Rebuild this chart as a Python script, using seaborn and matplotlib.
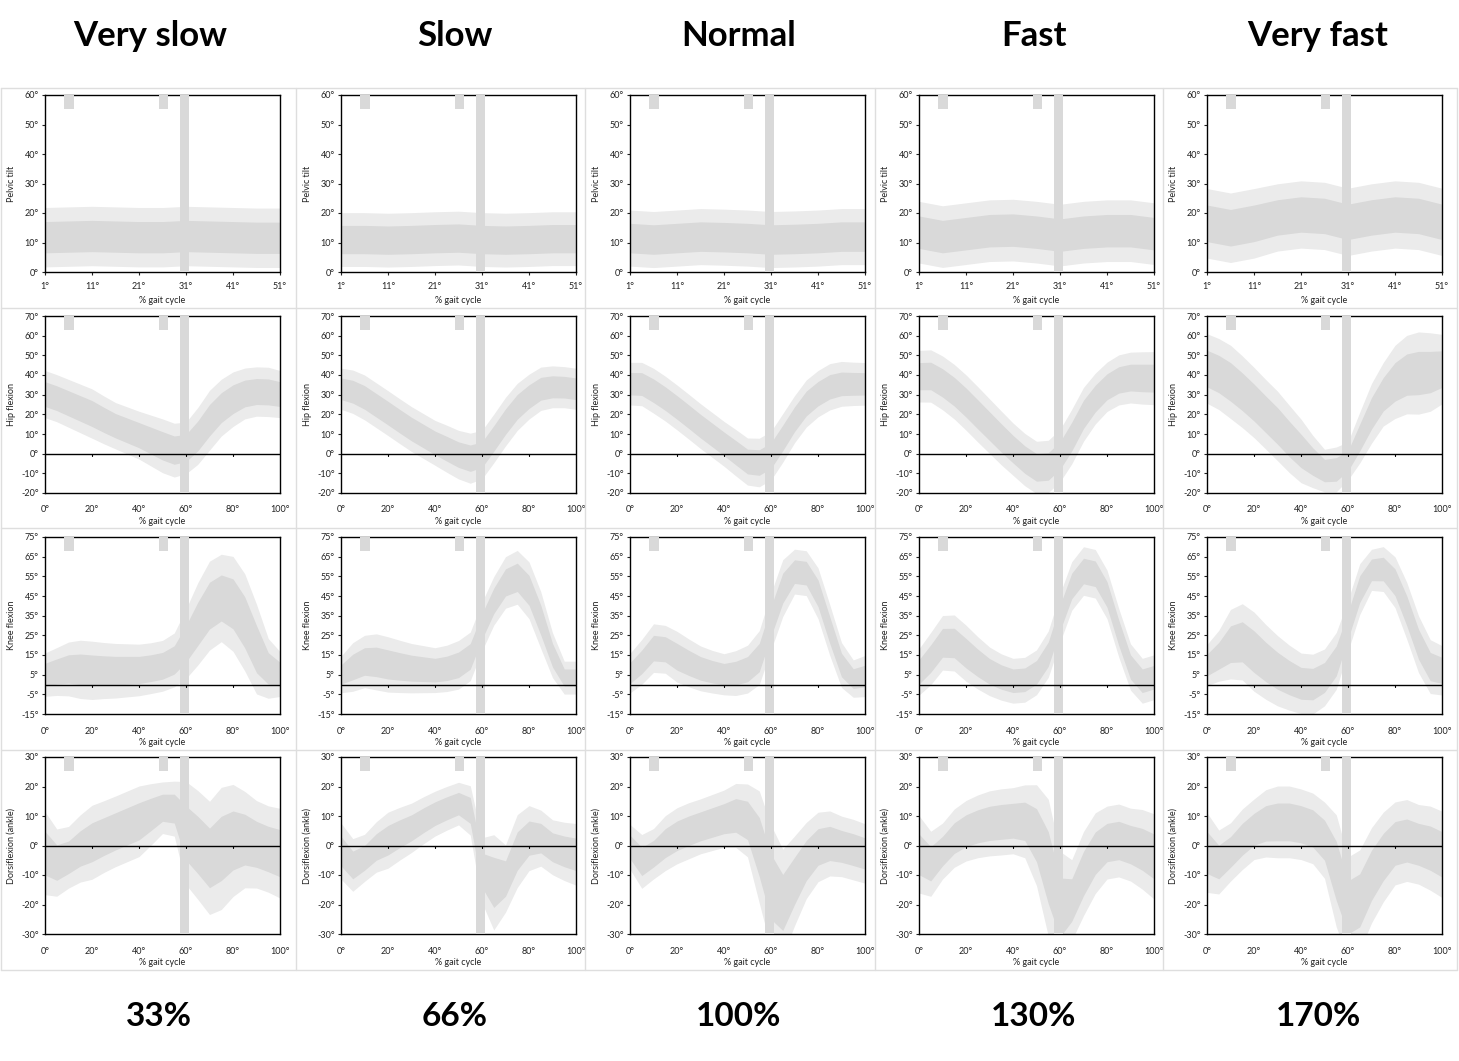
import matplotlib.pyplot as plt
from matplotlib.lines import Line2D
import numpy as np
import seaborn as sns

sns.set_theme(style="white")
plt.rcParams["font.family"] = ["Lato", "DejaVu Sans"]

speeds = ["Very slow", "Slow", "Normal", "Fast", "Very fast"]
speed_pct = ["33%", "66%", "100%", "130%", "170%"]
joints = ["Pelvic tilt", "Hip flexion", "Knee flexion", "Dorsiflexion (ankle)"]

pelvis_x = [1, 6, 11, 16, 21, 26, 31, 36, 41, 46, 51]
gait_x = [0, 5, 10, 15, 20, 25, 30, 35, 40, 45, 50, 55, 60, 65, 70, 75, 80, 85, 90, 95, 100]

# pelvic tilt (one row per speed)
pelvis_mean = [
    [11.8, 12.0, 12.2, 12.0, 11.8, 11.8, 12.2, 12.0, 11.8, 11.6, 11.6],
    [11.0, 11.0, 10.8, 11.0, 11.3, 11.5, 11.0, 10.8, 11.0, 11.3, 11.3],
    [11.5, 11.0, 11.5, 12.0, 11.8, 11.5, 11.0, 11.2, 11.5, 12.0, 12.0],
    [13.5, 12.0, 13.0, 14.0, 14.2, 13.5, 12.5, 13.5, 14.0, 14.0, 13.0],
    [16.5, 15.0, 16.5, 18.5, 19.5, 19.0, 17.0, 18.5, 19.5, 19.0, 17.0],
]
pelvis_sd = [
    [5.3, 5.3, 5.3, 5.3, 5.3, 5.3, 5.3, 5.3, 5.3, 5.3, 5.3],
    [4.8, 4.8, 4.8, 4.8, 4.8, 4.8, 4.8, 4.8, 4.8, 4.8, 4.8],
    [5.0, 5.0, 5.0, 5.0, 5.0, 5.0, 5.0, 5.0, 5.0, 5.0, 5.0],
    [5.5, 5.5, 5.5, 5.5, 5.5, 5.5, 5.5, 5.5, 5.5, 5.5, 5.5],
    [6.2, 6.2, 6.2, 6.0, 6.0, 6.0, 6.0, 6.0, 6.0, 6.0, 6.0],
]

hip_mean = [
    [30.3, 28.2, 25.6, 23.0, 20.4, 17.2, 14.2, 11.8, 9.4, 6.7, 4.0, 1.8, 2.9, 9.0, 17.0, 23.4, 27.7, 30.6, 31.6, 31.4, 30.3],
    [33.0, 31.5, 28.6, 24.6, 20.6, 16.5, 12.5, 9.0, 5.5, 2.5, -0.5, -2.3, -0.5, 7.7, 16.3, 23.8, 29.0, 33.0, 34.0, 33.8, 33.0],
    [35.6, 35.4, 32.0, 28.0, 23.5, 18.8, 14.0, 9.5, 5.0, 0.5, -4.0, -4.5, -1.0, 8.0, 17.5, 25.5, 30.5, 34.0, 35.5, 35.5, 35.5],
    [39.4, 39.5, 36.0, 31.5, 26.0, 20.0, 14.0, 8.0, 2.3, -3.0, -7.0, -6.5, -1.0, 8.7, 20.0, 28.0, 34.0, 37.5, 38.7, 38.5, 38.4],
    [43.3, 40.5, 36.5, 31.5, 26.0, 20.0, 14.1, 7.5, 1.4, -4.0, -8.6, -8.0, -3.7, 8.2, 20.5, 30.2, 36.5, 40.2, 41.0, 41.5, 43.0],
]
hip_sd = [
    [6.3, 6.3, 6.4, 6.5, 6.6, 6.4, 6.2, 6.3, 6.4, 6.8, 7.2, 7.2, 6.9, 7.6, 8.0, 7.6, 7.3, 6.8, 6.6, 6.6, 6.3],
    [5.5, 5.8, 6.0, 6.0, 6.0, 6.0, 6.0, 6.0, 6.0, 6.3, 6.5, 6.7, 6.5, 6.5, 6.5, 6.3, 6.0, 5.8, 5.6, 5.5, 5.5],
    [5.7, 5.8, 6.0, 6.0, 6.0, 6.0, 6.0, 6.0, 6.0, 6.2, 6.3, 6.5, 6.5, 6.5, 6.3, 6.3, 6.2, 6.2, 6.0, 5.8, 5.7],
    [6.9, 7.0, 7.2, 7.3, 7.4, 7.4, 7.3, 7.2, 7.0, 7.0, 7.0, 7.0, 7.0, 7.3, 7.2, 6.8, 6.6, 6.7, 6.8, 7.0, 7.1],
    [9.3, 9.5, 9.8, 9.6, 9.4, 9.3, 9.3, 9.0, 8.5, 7.0, 5.7, 6.0, 5.1, 6.8, 8.0, 8.5, 9.8, 10.5, 11.0, 10.5, 9.3],
]

knee_mean = [
    [5.0, 6.6, 7.9, 7.7, 7.2, 7.1, 7.0, 7.2, 7.4, 8.3, 9.5, 12.5, 20.7, 30.8, 40.1, 44.0, 41.0, 31.6, 18.0, 8.2, 5.3],
    [5.1, 8.9, 11.7, 11.5, 10.2, 9.2, 8.3, 7.8, 7.3, 8.2, 10.0, 14.3, 29.5, 42.5, 51.9, 54.5, 47.9, 32.8, 14.9, 3.5, 3.5],
    [5.8, 11.5, 18.5, 17.9, 14.1, 11.0, 8.2, 6.5, 5.2, 5.8, 7.8, 13.7, 32.0, 49.0, 57.4, 56.6, 46.4, 27.7, 9.9, 3.0, 4.3],
    [6.4, 13.2, 21.2, 21.1, 15.9, 11.0, 6.7, 3.8, 1.9, 2.4, 6.2, 15.4, 33.8, 50.1, 57.7, 56.3, 45.8, 26.3, 8.9, 1.9, 3.7],
    [9.9, 14.6, 20.5, 21.7, 16.7, 11.5, 7.0, 3.5, 0.6, 0.2, 3.6, 12.0, 29.9, 48.5, 58.3, 58.7, 52.0, 37.5, 20.5, 9.1, 7.2],
]
knee_sd = [
    [5.8, 6.4, 7.2, 7.8, 7.8, 7.5, 7.3, 7.1, 6.9, 6.8, 6.8, 7.2, 9.3, 11.0, 11.9, 11.7, 12.7, 13.0, 12.0, 8.0, 6.0],
    [4.9, 6.5, 7.0, 7.5, 7.4, 7.0, 6.6, 6.3, 6.0, 6.2, 6.5, 6.5, 6.5, 6.5, 6.9, 7.2, 7.6, 7.6, 6.0, 4.4, 4.4],
    [5.3, 6.0, 6.5, 6.4, 6.8, 6.4, 6.0, 5.7, 5.5, 6.0, 6.4, 7.2, 7.6, 7.6, 6.0, 6.0, 6.8, 6.8, 6.0, 5.0, 5.5],
    [6.2, 7.0, 7.3, 7.5, 7.5, 7.0, 6.5, 6.2, 6.0, 6.0, 6.0, 6.2, 6.5, 6.5, 6.5, 6.5, 6.5, 6.5, 6.2, 6.0, 6.0],
    [5.5, 6.8, 9.3, 10.2, 10.6, 10.0, 9.4, 8.7, 8.1, 8.0, 7.6, 7.6, 6.8, 6.8, 5.5, 6.0, 6.8, 7.6, 7.6, 7.2, 6.6],
]

ankle_mean = [
    [-2.6, -5.8, -4.0, -1.0, 1.1, 3.0, 4.8, 6.5, 8.2, 10.5, 12.8, 12.5, 4.2, 0.2, -4.2, -1.0, 1.7, 2.0, 0.4, -1.2, -2.6],
    [-1.9, -6.6, -4.2, -0.5, 1.8, 4.0, 6.0, 8.5, 10.8, 12.6, 14.2, 11.9, -8.4, -12.5, -11.2, -1.9, 2.5, 2.5, -0.6, -2.0, -3.0],
    [-0.5, -5.4, -2.8, 0.8, 3.3, 5.0, 6.5, 7.8, 9.1, 10.2, 8.5, -0.5, -14.0, -19.3, -12.0, -5.1, -0.5, 0.7, -0.3, -1.4, -2.7],
    [-3.0, -6.2, -1.9, 2.5, 5.0, 6.5, 7.5, 8.0, 8.4, 8.2, 3.5, -7.5, -21.0, -18.5, -9.5, -2.6, 1.0, 1.7, 0.3, -1.3, -3.7],
    [-2.4, -5.6, -2.2, 2.1, 5.5, 7.5, 8.0, 8.0, 7.2, 5.8, 1.8, -8.6, -21.0, -18.6, -10.1, -3.9, 0.7, 1.7, 0.4, -0.9, -3.0],
]
ankle_sd = [
    [7.4, 6.0, 5.5, 6.0, 6.6, 6.4, 6.3, 6.3, 6.3, 5.5, 4.6, 4.9, 9.2, 9.7, 10.1, 10.9, 10.0, 8.6, 7.8, 7.7, 8.0],
    [5.0, 4.7, 4.2, 4.5, 5.0, 4.7, 4.4, 4.2, 4.0, 3.9, 3.8, 4.4, 5.8, 8.5, 6.0, 6.5, 5.8, 5.0, 4.9, 5.2, 5.5],
    [4.0, 4.8, 4.5, 4.9, 5.0, 5.0, 4.9, 5.0, 5.1, 5.7, 6.5, 10.0, 11.0, 9.5, 8.0, 6.8, 6.2, 5.8, 5.4, 5.4, 5.3],
    [6.9, 5.8, 5.0, 5.2, 5.4, 5.6, 5.8, 5.9, 5.9, 6.5, 9.0, 12.2, 10.0, 7.2, 7.5, 7.2, 6.5, 6.5, 6.5, 7.1, 7.6],
    [7.1, 5.7, 5.2, 5.4, 5.4, 6.0, 6.4, 6.4, 6.3, 6.3, 6.8, 10.0, 9.0, 9.0, 8.5, 8.0, 7.4, 7.3, 7.1, 7.5, 7.7],
]

# gait events in % of cycle: two small markers and toe-off bar
event_marks = [(8.2, 12.2), (48.3, 52.3)]
toe_off = (57.5, 61.3)

y_ranges = [(0, 60), (-20, 70), (-15, 75), (-30, 30)]
y_ticks = [list(range(0, 61, 10)), list(range(-20, 71, 10)), list(range(-15, 76, 10)), list(range(-30, 31, 10))]
pelvis_ticks = [1, 11, 21, 31, 41, 51]
gait_ticks = [0, 20, 40, 60, 80, 100]

OUTER_K = 1.9
outer_col = "#ebebeb"
inner_col = "#d9d9d9"

W, H = 1459, 1061
fig = plt.figure(figsize=(W / 100, H / 100), dpi=100)

col_left = [45, 341, 630, 919, 1207]
row_top = [95, 316, 537, 757]
ax_w, ax_h = 235, 177

means = [pelvis_mean, hip_mean, knee_mean, ankle_mean]
sds = [pelvis_sd, hip_sd, knee_sd, ankle_sd]

for r in range(4):
    for c in range(5):
        ax = fig.add_axes([col_left[c] / W, 1 - (row_top[r] + ax_h) / H, ax_w / W, ax_h / H])
        if r == 0:
            x = np.array(pelvis_x)
            to_x = lambda p: 1 + p * 0.5
            xlim = (1, 51)
            xt = pelvis_ticks
        else:
            x = np.array(gait_x)
            to_x = lambda p: p
            xlim = (0, 100)
            xt = gait_ticks
        m = np.array(means[r][c])
        s = np.array(sds[r][c])
        ax.fill_between(x, m - OUTER_K * s, m + OUTER_K * s, color=outer_col, lw=0, zorder=1)
        ax.fill_between(x, m - s, m + s, color=inner_col, lw=0, zorder=2)
        for a, b in event_marks:
            ax.axvspan(to_x(a), to_x(b), ymin=0.92, ymax=1, color=inner_col, lw=0, zorder=3)
        ax.axvspan(to_x(toe_off[0]), to_x(toe_off[1]), color=inner_col, lw=0, zorder=3)

        ax.set_xlim(*xlim)
        ax.set_ylim(*y_ranges[r])
        ax.set_yticks(y_ticks[r])
        ax.set_yticklabels([f"{v}°" for v in y_ticks[r]])
        ax.set_xticks(xt)
        ax.set_xticklabels([f"{v}°" for v in xt])
        lo, hi = y_ranges[r]
        if lo < 0:
            ax.axhline(0, color="black", lw=1, zorder=4)
            tl = (hi - lo) * 0.012
            for v in xt[1:-1]:
                ax.plot([v, v], [0, -tl], color="black", lw=0.8, zorder=4)
            ax.tick_params(axis="x", length=0, pad=9)
        else:
            ax.tick_params(axis="x", length=2.5, width=0.8, direction="out", pad=5)
        ax.tick_params(axis="y", length=2.5, width=0.8, direction="out", pad=2)
        ax.tick_params(labelsize=6.5, colors="#222222", labelcolor="#222222")
        ax.xaxis.set_ticks_position("bottom")
        ax.yaxis.set_ticks_position("left")
        for sp in ax.spines.values():
            sp.set_visible(True)
            sp.set_color("black")
            sp.set_linewidth(1.0)
        ax.set_facecolor("white")
        ax.set_xlabel("% gait cycle", fontsize=6.5, color="#222222")
        ax.set_ylabel(joints[r], fontsize=6.5, color="#222222")
        ax.yaxis.set_label_coords(-29 / ax_w, 0.5)
        ax.xaxis.set_label_coords(0.5, -24 / ax_h)

# table grid
grid_x = [1, 296, 585, 875, 1163, 1457]
grid_y = [88, 308, 528, 750, 970]
for gx in grid_x:
    fig.add_artist(Line2D([gx / W, gx / W], [1 - grid_y[0] / H, 1 - grid_y[-1] / H], color="#dedede", lw=1))
for gy in grid_y:
    fig.add_artist(Line2D([grid_x[0] / W, grid_x[-1] / W], [1 - gy / H, 1 - gy / H], color="#dedede", lw=1))

title_x = [150, 455, 739, 1034, 1318]
pct_x = [159, 455, 739, 1034, 1318]
for i in range(5):
    fig.text(title_x[i] / W, 1 - 36 / H, speeds[i], fontsize=25, fontweight="bold", ha="center", va="center", color="black")
    fig.text(pct_x[i] / W, 1 - 1017 / H, speed_pct[i], fontsize=24, fontweight="bold", ha="center", va="center", color="black")

fig.savefig("out.png", dpi=100, facecolor="white")
